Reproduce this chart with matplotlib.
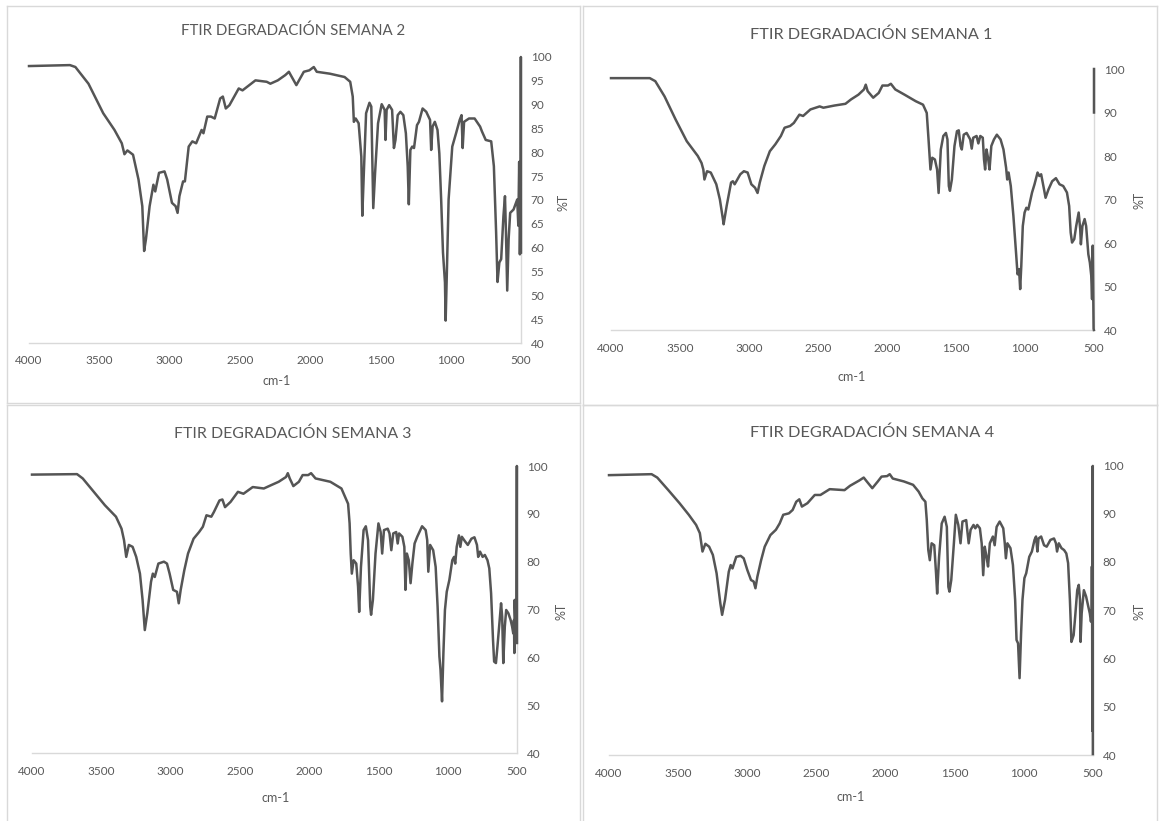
import numpy as np
import matplotlib
matplotlib.use("Agg")
import matplotlib.pyplot as plt
from matplotlib.lines import Line2D

plt.rcParams['font.family'] = ['Lato', 'DejaVu Sans']
plt.rcParams['path.simplify'] = False

# ---------------- DATA ----------------
titles = ["FTIR DEGRADACIÓN SEMANA 2", "FTIR DEGRADACIÓN SEMANA 1",
          "FTIR DEGRADACIÓN SEMANA 3", "FTIR DEGRADACIÓN SEMANA 4"]
x_label = "cm-1"
y_label = "%T"
x_ticks = [4000, 3500, 3000, 2500, 2000, 1500, 1000, 500]
y_ticks_s2 = [40, 45, 50, 55, 60, 65, 70, 75, 80, 85, 90, 95, 100]
y_ticks_other = [40, 50, 60, 70, 80, 90, 100]

# Semana 2
wn_s2 = [4000, 3709, 3670, 3577, 3472, 3392, 3340, 3321, 3300, 3260, 3221, 3194, 3181, 3168,
         3142, 3115, 3102, 3075, 3036, 3017, 2983, 2957, 2943, 2930, 2904, 2891, 2864, 2838,
         2811, 2772, 2759, 2732, 2706, 2679, 2640, 2621, 2600, 2574, 2508, 2481, 2389, 2309,
         2283, 2230, 2177, 2151, 2138, 2098, 2045, 2006, 1974, 1953, 1860, 1755, 1715, 1697,
         1689, 1676, 1655, 1636, 1629, 1618, 1602, 1578, 1565, 1551, 1538, 1517, 1491, 1470,
         1464, 1456, 1438, 1417, 1404, 1393, 1377, 1358, 1337, 1319, 1306, 1298, 1287, 1274,
         1261, 1240, 1226, 1200, 1174, 1147, 1139, 1129, 1113, 1094, 1081, 1068, 1055, 1041,
         1036, 1028, 1015, 989, 962, 936, 923, 915, 905, 870, 830, 791, 778, 751, 712, 693,
         677, 667, 654, 641, 625, 614, 607, 598, 588, 577, 553, 527, 519, 513, 508, 504, 502,
         501, 500]
t_s2 = [98.1, 98.3, 97.9, 94.4, 88.2, 84.7, 81.9, 79.6, 80.4, 79.5, 74.3, 68.7, 59.3, 61.8,
        68.7, 73.2, 71.8, 75.7, 76.0, 74.3, 69.4, 68.7, 67.3, 70.8, 73.9, 73.9, 81.2, 82.3,
        81.9, 84.7, 84.0, 87.5, 87.5, 87.1, 91.3, 91.7, 89.2, 89.9, 93.4, 93.0, 95.1, 94.8,
        94.4, 95.1, 96.2, 96.9, 96.2, 94.1, 96.9, 97.2, 97.9, 96.9, 96.5, 95.8, 94.8, 91.7,
        86.4, 87.1, 86.1, 79.1, 66.7, 75.7, 88.2, 90.4, 89.6, 68.3, 75.7, 86.1, 90.1, 88.9,
        82.6, 88.9, 89.9, 88.9, 80.9, 82.6, 87.8, 88.5, 87.8, 84.0, 77.1, 69.1, 80.5, 81.2,
        80.9, 85.7, 86.4, 89.2, 88.5, 86.8, 80.5, 85.4, 86.4, 84.7, 79.8, 70.1, 59.0, 52.7,
        44.7, 54.1, 70.1, 81.2, 84.0, 86.8, 87.8, 80.9, 86.4, 87.1, 87.1, 85.4, 84.4, 82.6,
        82.3, 77.1, 63.2, 52.8, 56.9, 57.6, 66.6, 70.8, 63.2, 51.0, 61.8, 67.3, 68.0, 70.1,
        64.6, 78.0, 58.6, 66.0, 64.0, 100.0, 59.0]

# Semana 1
wn_s1 = [4000, 3719, 3679, 3612, 3532, 3451, 3371, 3344, 3331, 3323, 3304, 3277, 3237, 3211,
         3189, 3184, 3162, 3130, 3117, 3104, 3063, 3037, 3010, 2983, 2956, 2938, 2922, 2889,
         2849, 2809, 2769, 2742, 2702, 2675, 2635, 2608, 2555, 2488, 2461, 2381, 2301, 2261,
         2207, 2167, 2154, 2140, 2100, 2060, 2033, 1993, 1972, 1940, 1873, 1792, 1739, 1712,
         1699, 1685, 1672, 1653, 1637, 1626, 1610, 1592, 1573, 1562, 1552, 1544, 1530, 1511,
         1493, 1480, 1467, 1458, 1444, 1423, 1397, 1386, 1375, 1351, 1338, 1324, 1306, 1297,
         1289, 1279, 1268, 1257, 1244, 1225, 1204, 1177, 1156, 1137, 1129, 1119, 1103, 1084,
         1065, 1054, 1043, 1035, 1027, 1016, 1003, 990, 976, 949, 931, 909, 896, 883, 862, 851,
         830, 803, 776, 750, 723, 696, 680, 669, 659, 643, 629, 611, 600, 595, 584, 568, 557,
         541, 530, 520, 514, 509, 503, 501, 500, 500, 500]
t_s1 = [97.9, 97.9, 97.2, 93.7, 88.4, 83.4, 80.0, 78.4, 76.9, 74.6, 76.5, 76.2, 73.5, 70.0,
        65.5, 64.3, 68.5, 73.9, 74.2, 73.5, 75.8, 76.5, 76.2, 73.5, 72.7, 71.5, 73.9, 77.7,
        81.1, 82.7, 84.6, 86.5, 86.9, 87.6, 89.5, 89.2, 90.7, 91.4, 91.1, 91.6, 92.0, 93.0,
        94.1, 95.3, 96.4, 94.9, 93.4, 94.5, 96.2, 96.2, 96.6, 95.3, 94.1, 92.6, 91.8, 89.9,
        83.8, 76.9, 79.6, 79.2, 76.9, 71.5, 81.5, 84.6, 85.3, 83.8, 73.1, 72.0, 74.6, 82.3,
        85.7, 85.9, 82.3, 81.5, 84.9, 85.3, 83.8, 81.7, 84.2, 84.6, 82.9, 84.6, 84.2, 79.2,
        76.9, 81.5, 79.6, 76.9, 82.3, 83.8, 84.9, 83.8, 81.5, 77.3, 74.6, 76.2, 73.1, 66.2,
        57.8, 52.8, 54.0, 49.4, 54.7, 63.9, 67.0, 68.1, 67.7, 71.6, 73.5, 76.2, 75.4, 75.8,
        72.3, 70.4, 72.3, 74.2, 74.9, 73.5, 73.1, 71.6, 68.5, 62.4, 60.1, 60.9, 63.9, 67.0,
        63.2, 59.7, 63.9, 65.5, 63.9, 57.4, 55.5, 52.5, 47.1, 59.4, 40.3, 40.0, np.nan, 90.0,
        100.0]

# Semana 3
wn_s3 = [4000, 3675, 3634, 3554, 3474, 3394, 3354, 3336, 3320, 3301, 3274, 3248, 3221, 3202,
         3186, 3168, 3141, 3128, 3114, 3088, 3048, 3026, 3007, 2981, 2954, 2941, 2927, 2901,
         2874, 2834, 2794, 2767, 2741, 2706, 2687, 2647, 2626, 2607, 2567, 2514, 2474, 2407,
         2327, 2274, 2220, 2167, 2154, 2140, 2114, 2074, 2047, 2007, 1986, 1954, 1847, 1767,
         1740, 1719, 1708, 1700, 1692, 1679, 1660, 1647, 1639, 1626, 1607, 1591, 1575, 1559,
         1553, 1540, 1521, 1500, 1484, 1473, 1460, 1433, 1420, 1407, 1393, 1372, 1361, 1351,
         1327, 1313, 1305, 1295, 1281, 1268, 1255, 1239, 1220, 1185, 1159, 1148, 1140, 1127,
         1105, 1087, 1073, 1060, 1052, 1041, 1031, 1020, 1007, 988, 967, 954, 946, 935, 919,
         909, 898, 874, 855, 829, 807, 789, 780, 767, 748, 732, 713, 700, 687, 673, 665, 652,
         641, 625, 615, 607, 599, 588, 578, 562, 546, 535, 527, 522, 519, 517, 510, 506, 503,
         501, 500]
t_s3 = [98.2, 98.3, 97.4, 94.6, 91.8, 89.4, 86.9, 84.5, 81.0, 83.5, 83.1, 81.0, 77.5, 72.0,
        65.7, 69.2, 75.8, 77.5, 76.8, 79.6, 80.0, 79.6, 77.5, 74.1, 73.7, 71.3, 74.1, 78.2,
        81.7, 84.8, 86.2, 87.3, 89.7, 89.4, 90.4, 92.8, 93.0, 91.4, 92.5, 94.6, 94.2, 95.6,
        95.3, 96.0, 96.7, 97.7, 98.5, 97.4, 95.8, 96.7, 98.1, 98.1, 98.5, 97.4, 96.7, 95.3,
        93.5, 92.1, 88.0, 81.7, 77.5, 80.3, 79.6, 74.8, 69.5, 78.9, 86.6, 87.4, 84.5, 70.6,
        68.9, 72.0, 81.7, 88.0, 86.2, 81.7, 86.6, 86.9, 85.9, 82.4, 85.9, 86.2, 83.8, 85.9,
        85.2, 83.1, 74.1, 81.7, 80.3, 75.5, 79.6, 83.8, 85.2, 87.4, 86.6, 84.5, 77.9, 83.5,
        82.4, 78.9, 70.6, 60.2, 57.4, 50.8, 61.0, 69.9, 73.7, 76.2, 80.3, 81.0, 79.6, 83.1,
        85.5, 83.1, 85.2, 84.2, 83.5, 84.8, 85.1, 83.5, 81.0, 82.1, 81.0, 81.4, 80.3, 78.6,
        73.4, 63.6, 59.1, 58.8, 62.3, 67.8, 71.3, 68.5, 58.8, 66.4, 69.9, 69.2, 67.8, 66.4,
        65.0, 67.8, 60.9, 72.0, 66.0, 64.0, 70.0, 100.0, 63.0]

# Semana 4
wn_s4 = [4000, 3692, 3651, 3571, 3490, 3423, 3370, 3343, 3324, 3303, 3276, 3249, 3222, 3195,
         3182, 3161, 3134, 3120, 3107, 3080, 3048, 3026, 3000, 2973, 2954, 2941, 2927, 2900,
         2874, 2833, 2793, 2766, 2740, 2699, 2672, 2646, 2624, 2605, 2565, 2512, 2471, 2404,
         2297, 2257, 2190, 2158, 2136, 2096, 2056, 2029, 1989, 1970, 1948, 1868, 1801, 1761,
         1734, 1712, 1702, 1691, 1680, 1667, 1648, 1635, 1627, 1613, 1594, 1573, 1557, 1546,
         1538, 1525, 1506, 1492, 1474, 1458, 1444, 1417, 1407, 1399, 1385, 1364, 1351, 1337,
         1318, 1305, 1294, 1283, 1270, 1259, 1246, 1224, 1211, 1197, 1175, 1149, 1138, 1130,
         1119, 1097, 1079, 1063, 1053, 1042, 1031, 1020, 1010, 996, 983, 961, 942, 923, 912,
         902, 894, 875, 854, 835, 808, 782, 768, 760, 747, 728, 709, 693, 680, 667, 656, 640,
         629, 614, 603, 594, 590, 582, 566, 550, 534, 523, 515, 510, 508, 506, 505, 504, 502,
         501]
t_s4 = [97.9, 98.1, 97.4, 94.8, 92.1, 89.7, 87.6, 85.9, 82.1, 83.7, 83.1, 81.4, 77.6, 71.4,
        69.0, 72.1, 77.9, 79.3, 78.6, 81.0, 81.2, 80.7, 78.3, 76.2, 75.9, 74.5, 76.9, 80.3,
        83.1, 85.5, 86.6, 87.9, 89.7, 90.0, 90.7, 92.4, 92.9, 91.4, 92.1, 93.8, 93.8, 95.0,
        94.8, 95.7, 96.8, 97.4, 96.6, 95.2, 96.6, 97.6, 97.7, 98.1, 97.2, 96.6, 95.9, 94.5,
        93.1, 92.4, 88.6, 82.4, 80.3, 83.8, 83.4, 77.6, 73.4, 81.0, 87.9, 89.3, 87.2, 74.8,
        73.8, 76.2, 83.8, 89.7, 87.6, 83.8, 88.3, 88.6, 85.9, 83.8, 86.6, 87.6, 86.9, 87.6,
        86.9, 83.8, 77.2, 83.1, 81.0, 79.0, 83.8, 85.2, 83.4, 87.2, 88.3, 86.9, 83.8, 80.7,
        83.8, 82.8, 79.3, 72.1, 63.8, 63.1, 55.9, 65.2, 72.1, 76.6, 77.6, 81.0, 82.1, 84.5,
        85.2, 82.1, 84.8, 85.2, 83.4, 83.1, 84.5, 84.8, 83.8, 82.1, 83.8, 82.8, 82.4, 81.7,
        79.7, 72.1, 63.4, 64.8, 68.6, 74.1, 75.2, 72.1, 63.4, 69.3, 74.1, 72.8, 70.7, 69.3,
        67.6, 69.0, 79.0, 66.0, 45.0, 68.0, 99.8, 40.2]

series_x = [wn_s2, wn_s1, wn_s3, wn_s4]
series_y = [t_s2, t_s1, t_s3, t_s4]

# ---------------- LAYOUT ----------------
W, H = 1159, 821
fig = plt.figure(figsize=(W / 100, H / 100), dpi=100)
fig.patch.set_facecolor("white")

TXT = "#595959"
GRID = "#D9D9D9"
LINE = "#555555"

def fx(px):
    return px / W

def fy(py):
    return 1 - py / H

# (x_left_px, x_right_px, y_top_px(100), y_bottom_px(40))
axes_px = [(29, 521, 57, 343), (611, 1094, 69, 330), (32, 517, 466, 753), (609, 1093, 465, 755)]
title_pos = [(293, 31), (871, 35), (293, 434), (872, 433)]
title_size = [10.8, 11.7, 11.4, 11.8]
xlabel_pos = [(277, 381), (852, 377), (276, 798), (851, 797)]
ylabel_pos = [(563, 202), (1140, 200), (562, 611), (1140, 611)]
frames = [(7, 580, 6, 403), (583, 1157, 6, 405), (7, 580, 405, 830), (583, 1157, 405, 830)]

for (l, r, t, b) in frames:
    for xs, ys in [((l, r), (t, t)), ((l, r), (b, b)), ((l, l), (t, b)), ((r, r), (t, b))]:
        fig.add_artist(Line2D([fx(v) for v in xs], [fy(v) for v in ys],
                              color=GRID, lw=1.0, transform=fig.transFigure))

for i in range(4):
    l, r, t, b = axes_px[i]
    ax = fig.add_axes([fx(l), fy(b), fx(r) - fx(l), fy(t) - fy(b)])
    ax.plot(series_x[i], series_y[i], color=LINE, lw=1.8, solid_joinstyle="round",
            clip_on=False, zorder=3)
    ax.set_xlim(4000, 500)
    ax.set_ylim(40, 100)
    for side in ["top", "left"]:
        ax.spines[side].set_visible(False)
    ax.spines["bottom"].set_color(GRID)
    ax.spines["right"].set_color(GRID)
    ax.spines["bottom"].set_linewidth(1.0)
    ax.spines["right"].set_linewidth(1.0)
    ax.spines["right"].set_zorder(0)
    ax.yaxis.tick_right()
    ax.set_xticks(x_ticks)
    ax.set_xticklabels([str(v) for v in x_ticks])
    yt = y_ticks_s2 if i == 0 else y_ticks_other
    ax.set_yticks(yt)
    ax.set_yticklabels([str(v) for v in yt])
    ax.tick_params(axis="both", length=0, labelsize=8.5, colors=TXT)
    ax.tick_params(axis="x", pad=9)
    ax.tick_params(axis="y", pad=7)
    for lab in ax.get_yticklabels():
        lab.set_horizontalalignment("left")
    ax.set_facecolor("none")
    fig.text(fx(title_pos[i][0]), fy(title_pos[i][1]), titles[i], ha="center", va="center",
             fontsize=title_size[i], color=TXT)
    fig.text(fx(xlabel_pos[i][0]), fy(xlabel_pos[i][1]), x_label, ha="center", va="center",
             fontsize=9, color=TXT)
    fig.text(fx(ylabel_pos[i][0]), fy(ylabel_pos[i][1]), y_label, ha="center", va="center",
             fontsize=9, color=TXT, rotation=90)

fig.savefig("out.png", dpi=100, facecolor="white")
